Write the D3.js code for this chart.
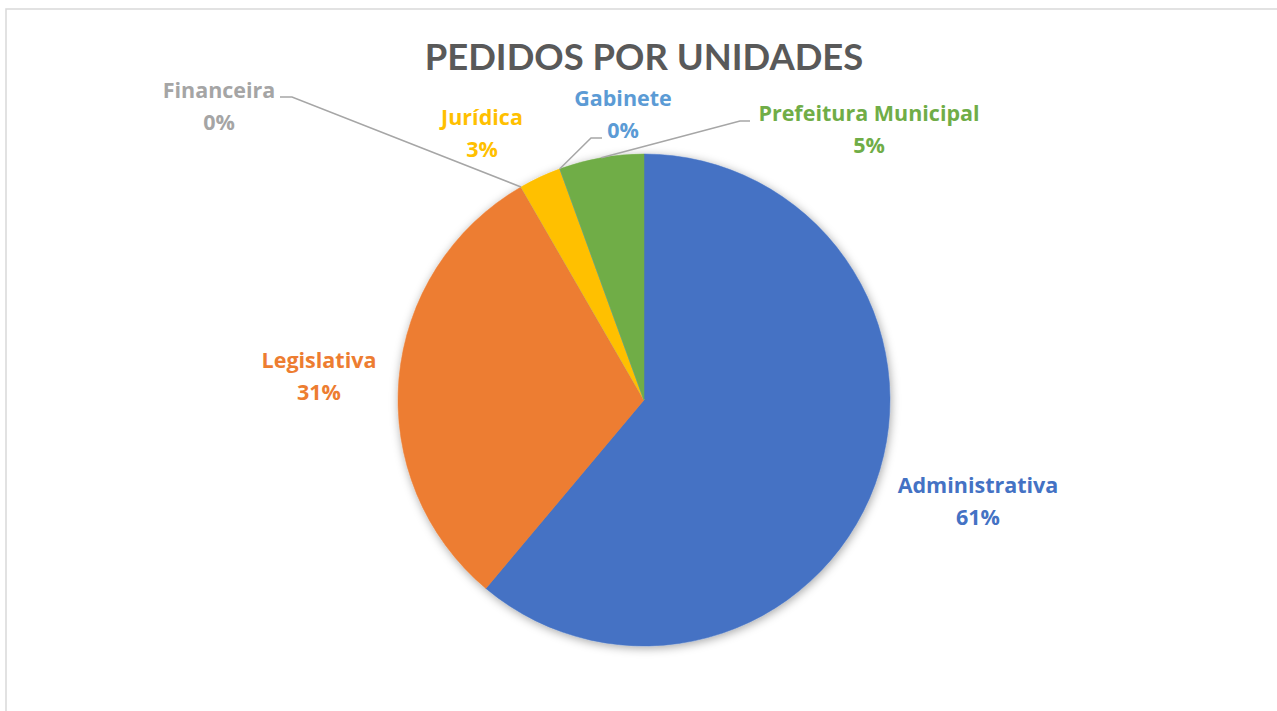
<!DOCTYPE html>
<html>
<head>
<meta charset="utf-8">
<script src="https://cdn.jsdelivr.net/npm/d3@7"></script>
<style>
  html, body { margin: 0; padding: 0; background: #fff; }
  svg { display: block; }
</style>
</head>
<body>
<svg id="chart" width="1277" height="711"></svg>
<script>
// ---- data ----
const categories = ["Administrativa", "Legislativa", "Financeira", "Jurídica", "Gabinete", "Prefeitura Municipal"];
const values = [22, 11, 0, 1, 0, 2];
const pctLabels = ["61%", "31%", "0%", "3%", "0%", "5%"];
const colors = ["#4472C4", "#ED7D31", "#A5A5A5", "#FFC000", "#5B9BD5", "#70AD47"];
const title = "PEDIDOS POR UNIDADES";

// ---- layout (positions only) ----
const W = 1277, H = 711;
const cx = 644, cy = 400, R = 246;
const labelPos = [
  { x: 978, y: 493, leader: null },
  { x: 319, y: 368, leader: null },
  { x: 219, y: 98, leader: [[292, 97], [280, 97]] },
  { x: 482, y: 125, leader: null },
  { x: 623, y: 106, leader: [[591, 138], [602, 138]] },
  { x: 869, y: 121, leader: [[740, 121], [750, 121]] }
];

const svg = d3.select("#chart");
const defs = svg.append("defs");
const f = defs.append("filter").attr("id", "shadow")
  .attr("x", "-20%").attr("y", "-20%").attr("width", "140%").attr("height", "140%");
f.append("feDropShadow").attr("dx", 1).attr("dy", 2).attr("stdDeviation", 5)
  .attr("flood-color", "#000").attr("flood-opacity", 0.35);

svg.append("rect").attr("x", 6).attr("y", 9).attr("width", W).attr("height", H)
  .attr("fill", "#fff").attr("stroke", "#D9D9D9").attr("stroke-width", 1.5);

svg.append("text").attr("x", cx).attr("y", 70).attr("text-anchor", "middle")
  .attr("font-family", "Lato, 'Open Sans', sans-serif").attr("font-weight", 700)
  .attr("font-size", 36.4).attr("fill", "#595959").text(title);

const data = categories.map((c, i) => ({ name: c, value: values[i], pct: pctLabels[i], color: colors[i], pos: labelPos[i] }));
const pie = d3.pie().sort(null).value(d => d.value);
const arcs = pie(data);
const arc = d3.arc().innerRadius(0).outerRadius(R);

const g = svg.append("g").attr("transform", `translate(${cx},${cy})`);
g.append("g").attr("filter", "url(#shadow)")
  .selectAll("path").data(arcs).join("path")
  .attr("d", arc).attr("fill", d => d.data.color)
  .attr("stroke", d => d.data.color).attr("stroke-width", 0.5);

// leader lines
arcs.forEach(a => {
  if (!a.data.pos.leader) return;
  const mid = (a.startAngle + a.endAngle) / 2;
  const sx = cx + R * Math.sin(mid), sy = cy - R * Math.cos(mid);
  const pts = [[sx, sy]].concat(a.data.pos.leader);
  svg.append("path").attr("d", d3.line()(pts)).attr("fill", "none")
    .attr("stroke", "#A6A6A6").attr("stroke-width", 1.5);
});

// labels
data.forEach(d => {
  const t = svg.append("text").attr("text-anchor", "middle")
    .attr("font-family", "'Open Sans', Lato, sans-serif").attr("font-weight", 700)
    .attr("font-size", 21.5).attr("fill", d.color);
  t.append("tspan").attr("x", d.pos.x).attr("y", d.pos.y).text(d.name);
  t.append("tspan").attr("x", d.pos.x).attr("y", d.pos.y + 32).text(d.pct);
});
</script>
</body>
</html>
